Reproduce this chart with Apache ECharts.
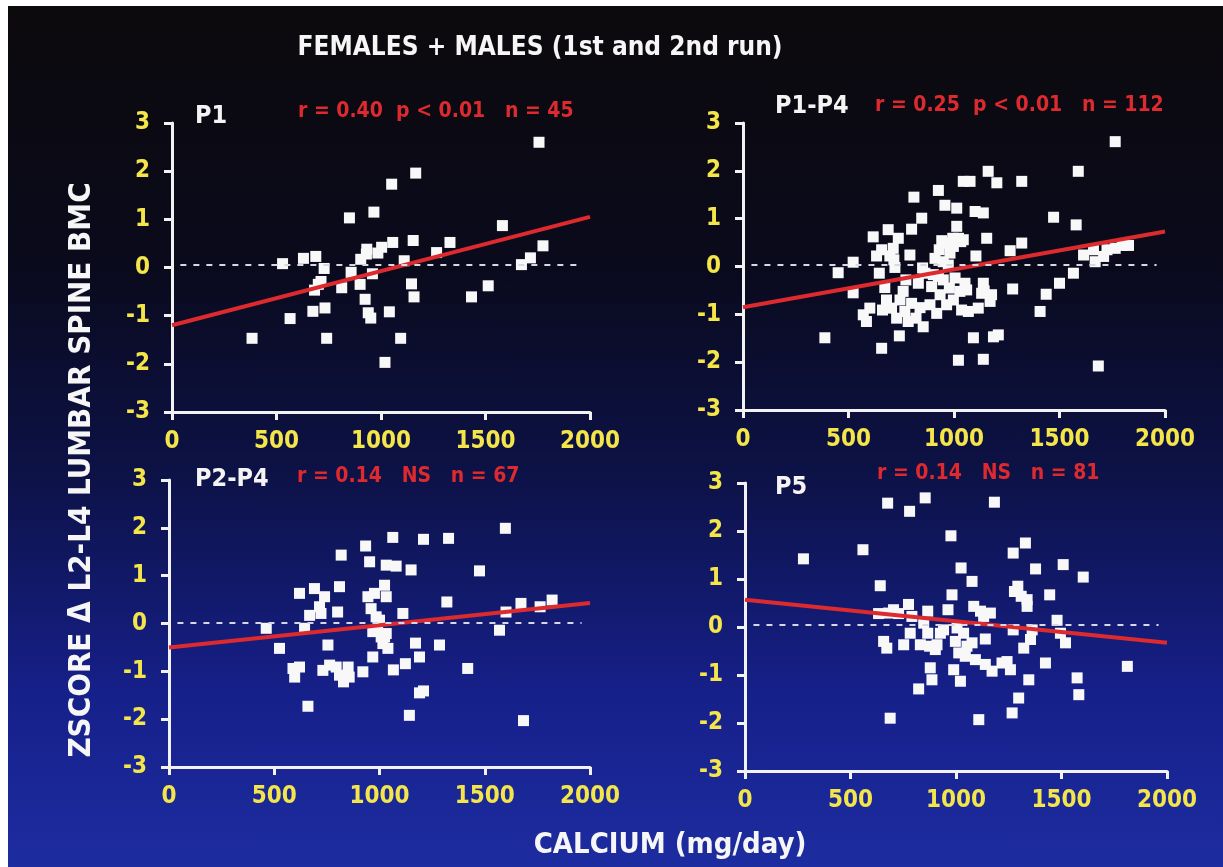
<!DOCTYPE html>
<html>
<head>
<meta charset="utf-8">
<script src="https://cdn.jsdelivr.net/npm/echarts@6/dist/echarts.min.js"></script>
<style>
  body { margin: 0; background: #ffffff; }
  #main {
    position: absolute; left: 8px; top: 6px; width: 1215px; height: 861px;
    background: linear-gradient(to bottom, #0c0a0c 0%, #0a0a1c 30%, #0d1248 55%, #16208a 80%, #1d2ca0 100%);
  }
</style>
</head>
<body>
<div id="main"></div>
<script>
// 数据：钙摄入量 (mg/day) 与 ZSCORE
var p1Calcium = [383, 529, 565, 629, 688, 728, 713, 682, 674, 732, 740, 849, 812, 857, 900, 903, 932, 924, 939, 951, 959, 966, 1003, 1051, 1056, 1040, 1019, 1094, 1111, 1146, 1158, 1154, 1166, 1266, 1330, 1433, 1513, 1581, 1672, 1715, 1775, 1756, 930, 700, 985];
var p1Zscore = [-1.47, 0.08, -1.06, 0.19, 0.23, -0.02, -0.29, -0.47, -0.91, -0.84, -1.47, 1.03, -0.42, -0.10, -0.35, 0.17, 0.38, -0.66, -0.94, -1.05, -0.13, 1.15, 0.42, 1.73, 0.52, -0.92, -1.97, -1.47, 0.14, -0.34, -0.61, 0.56, 1.96, 0.31, 0.52, -0.61, -0.38, 0.87, 0.06, 0.20, 0.45, 2.60, 0.28, -0.35, 0.30];

var p14Calcium = [388, 451, 522, 522, 570, 585, 617, 633, 646, 657, 661, 672, 688, 696, 704, 712, 720, 728, 736, 741, 759, 767, 783, 791, 799, 810, 820, 831, 839, 847, 851, 854, 886, 902, 910, 918, 926, 930, 934, 942, 949, 957, 965, 968, 973, 978, 981, 997, 1005, 1013, 1013, 1021, 1021, 1028, 1036, 1044, 1044, 1052, 1068, 1076, 1092, 1100, 1104, 1115, 1139, 1139, 1143, 1139, 1155, 1162, 1171, 1178, 1187, 1203, 1210, 1266, 1278, 1321, 1321, 1408, 1437, 1472, 1500, 1566, 1579, 1589, 1614, 1661, 1669, 1684, 1709, 1725, 1764, 1764, 1797, 1827, 601, 744, 799, 926, 1032, 994, 894, 772, 715, 657, 1060, 949, 862, 997, 1131, 680];
var p14Zscore = [-1.49, -0.13, 0.09, -0.55, -1.01, -1.15, 0.62, 0.22, -0.14, -1.71, -0.91, -0.44, 0.77, 0.22, -0.87, 0.38, -0.02, -1.08, 0.59, -1.45, -0.52, -0.94, -1.15, 0.24, 0.78, 1.45, -1.08, -0.35, -0.86, 1.01, -0.03, -1.26, -0.80, -0.17, 0.17, -0.98, 1.59, 0.35, -0.59, 0.54, -0.28, 1.28, -0.80, 0.49, 0.03, -0.45, 0.28, 0.42, -0.24, 0.84, 1.22, 0.59, -1.96, -0.52, -0.91, 1.78, 0.56, -0.35, -0.94, 1.78, -1.49, 1.15, 0.22, -0.87, 1.12, -0.35, -0.51, -1.94, 0.59, 1.99, -0.73, -0.59, -1.47, 1.75, -1.43, 0.33, -0.47, 0.49, 1.78, -0.94, -0.58, 1.03, -0.35, -0.14, 0.87, 1.99, 0.24, 0.35, 0.10, -2.08, 0.21, 0.35, 0.38, 2.61, 0.44, 0.44, -0.87, -0.70, -0.77, -0.21, 0.52, 0.59, -0.42, -0.28, 0.14, 0.35, -0.49, 0.10, -0.14, -0.70, -0.56, -0.70];

var p24Calcium = [462, 525, 620, 589, 597, 620, 644, 660, 668, 691, 715, 722, 731, 739, 755, 763, 794, 801, 810, 818, 810, 829, 851, 856, 921, 934, 945, 953, 960, 968, 968, 976, 984, 991, 1000, 1008, 1016, 1024, 1032, 1032, 1040, 1032, 1063, 1066, 1079, 1111, 1123, 1142, 1150, 1171, 1190, 1190, 1209, 1209, 1285, 1320, 1328, 1419, 1475, 1570, 1601, 1598, 1672, 1684, 1763, 1820, 1024];
var p24Zscore = [-0.10, -0.52, 0.63, -0.94, -1.12, -0.91, -0.10, -1.73, 0.17, 0.73, 0.35, 0.21, -0.98, 0.56, -0.45, -0.87, -0.91, 0.24, 0.77, 1.43, -1.08, -1.22, -0.91, -1.12, -1.01, 1.62, 0.56, 1.29, 0.31, -0.70, -0.17, 0.63, 0.14, -0.14, 0.07, -0.28, -0.42, 0.80, 0.56, -0.21, -0.52, 1.22, 1.80, -0.97, 1.20, 0.21, -0.84, -1.92, 1.12, -0.41, -0.70, -1.45, -1.41, 1.76, -0.45, 0.45, 1.78, -0.94, 1.10, -0.14, 0.24, 1.99, 0.42, -2.03, 0.35, 0.49, -0.28];

var p5Calcium = [277, 559, 641, 633, 657, 672, 676, 688, 704, 728, 752, 775, 780, 783, 791, 823, 831, 854, 866, 866, 875, 878, 886, 902, 926, 962, 976, 981, 989, 997, 1005, 1013, 1021, 1024, 1036, 1044, 1076, 1076, 1084, 1092, 1108, 1116, 1131, 1139, 1139, 1163, 1171, 1182, 1218, 1258, 1266, 1271, 1271, 1277, 1293, 1297, 1309, 1321, 1329, 1337, 1345, 1353, 1361, 1377, 1424, 1444, 1479, 1495, 1508, 1519, 1574, 1582, 1603, 1812, 941, 910, 1052, 847, 680, 1337, 1242];
var p5Zscore = [1.42, 1.61, 0.86, 0.28, -0.30, -0.44, 2.58, -1.90, 0.36, 0.28, -0.37, 0.47, 2.41, -0.13, 0.22, -1.29, -0.37, 2.69, 0.33, -0.13, -0.40, -0.85, -1.10, -0.47, -0.13, 0.36, 1.90, 0.67, -0.89, -0.30, -0.02, -0.54, -1.13, 1.23, -0.13, -0.61, -0.33, 0.95, 0.43, -0.68, -1.93, 0.33, 0.22, -0.25, -0.78, 0.29, -0.92, 2.60, -0.75, -0.89, -1.79, -0.06, 1.54, 0.74, 0.85, -1.48, 0.64, -0.44, 1.75, 0.57, -1.10, -0.26, -0.06, 1.21, -0.75, 0.67, 0.14, -0.13, 1.30, -0.33, -1.06, -1.41, 1.04, -0.82, -0.06, -0.37, -0.40, 0.08, 0.29, 0.43, -0.72];

// 回归线在 0 和 2000 处的取值
var fitEnds = [0, 2000];
var p1Fit = [-1.20, 1.05];
var p14Fit = [-0.85, 0.73];
var p24Fit = [-0.50, 0.43];
var p5Fit = [0.57, -0.33];
var zeroLine = [0.05, 0.03, 0.02, 0.05];

var xTicks = [0, 2000, 500];     // min, max, interval
var yTicks = [-3, 3, 1];

var panelNames = ['P1', 'P1-P4', 'P2-P4', 'P5'];
var panelStats = ['r = 0.40  p < 0.01   n = 45', 'r = 0.25  p < 0.01   n = 112', 'r = 0.14   NS   n = 67', 'r = 0.14   NS   n = 81'];

var FONT = "'DejaVu Sans Condensed', 'Liberation Sans', Arial, sans-serif";
var YELLOW = '#f4e64a';
var RED = '#dd2a2e';

function zip(xs, ys) {
    var out = [];
    for (var i = 0; i < xs.length; i++) {
        out.push([xs[i], ys[i]]);
    }
    return out;
}

var grids = [
    {left: 164, top: 117, width: 418, height: 289},
    {left: 735, top: 117, width: 422, height: 287},
    {left: 161, top: 474, width: 421, height: 287},
    {left: 737, top: 477, width: 422, height: 288}
];
var panelData = [zip(p1Calcium, p1Zscore), zip(p14Calcium, p14Zscore), zip(p24Calcium, p24Zscore), zip(p5Calcium, p5Zscore)];
var fits = [p1Fit, p14Fit, p24Fit, p5Fit];

var xAxes = [], yAxes = [], series = [];
for (var k = 0; k < 4; k++) {
    xAxes.push({
        gridIndex: k, type: 'value', min: xTicks[0], max: xTicks[1], interval: xTicks[2],
        axisLine: {onZero: false, lineStyle: {color: '#f2f2f2', width: 3}},
        axisTick: {length: 8, lineStyle: {color: '#f2f2f2', width: 3}},
        axisLabel: {color: YELLOW, fontFamily: FONT, fontWeight: 'bold', fontSize: 24, margin: 18,
            formatter: function (v) { return String(v); }},
        splitLine: {show: false}
    });
    yAxes.push({
        gridIndex: k, type: 'value', min: yTicks[0], max: yTicks[1], interval: yTicks[2],
        axisLine: {show: true, onZero: false, lineStyle: {color: '#f2f2f2', width: 3}},
        axisTick: {show: true, length: 8, lineStyle: {color: '#f2f2f2', width: 3}},
        axisLabel: {color: YELLOW, fontFamily: FONT, fontWeight: 'bold', fontSize: 24, margin: 22},
        splitLine: {show: false}
    });
    series.push({
        type: 'scatter', xAxisIndex: k, yAxisIndex: k,
        symbol: 'rect', symbolSize: 11,
        itemStyle: {color: '#f8f8f8', opacity: 1},
        data: panelData[k],
        markLine: {
            silent: true, symbol: 'none', label: {show: false},
            lineStyle: {color: '#d8d8e4', type: [6, 7], width: 2},
            data: [[{coord: [40, zeroLine[k]]}, {coord: [1960, zeroLine[k]]}]]
        },
        z: 3
    });
    series.push({
        type: 'line', xAxisIndex: k, yAxisIndex: k,
        showSymbol: false, silent: true,
        lineStyle: {color: RED, width: 4},
        data: [[fitEnds[0], fits[k][0]], [fitEnds[1], fits[k][1]]],
        z: 4
    });
}

var labelPos = [
    {name: [187, 111], stat: [290, 107]},
    {name: [767, 101], stat: [867, 101]},
    {name: [187, 474], stat: [289, 472]},
    {name: [767, 482], stat: [869, 469]}
];
var graphics = [];
for (var j = 0; j < 4; j++) {
    graphics.push({
        type: 'text', left: labelPos[j].name[0], top: labelPos[j].name[1] - 13,
        style: {text: panelNames[j], fill: '#f4f4f4', font: 'bold 25px ' + FONT}
    });
    graphics.push({
        type: 'text', left: labelPos[j].stat[0], top: labelPos[j].stat[1] - 12,
        style: {text: panelStats[j], fill: RED, font: 'bold 21px ' + FONT}
    });
}
graphics.push({
    type: 'text', x: 532, y: 42,
    style: {text: 'FEMALES + MALES (1st and 2nd run)', fill: '#f6f6f6', font: 'bold 26px ' + FONT, align: 'center', verticalAlign: 'middle'}
});
graphics.push({
    type: 'text', x: 662, y: 839,
    style: {text: 'CALCIUM (mg/day)', fill: '#f6f6f6', font: 'bold 29px ' + FONT, align: 'center', verticalAlign: 'middle'}
});
graphics.push({
    type: 'text', x: 74, y: 464, rotation: Math.PI / 2,
    style: {text: 'ZSCORE \u0394 L2-L4 LUMBAR SPINE BMC', fill: '#f6f6f6', font: 'bold 31px ' + FONT, align: 'center', verticalAlign: 'middle'}
});

var myChart = echarts.init(document.getElementById('main'));
myChart.setOption({
    backgroundColor: 'transparent',
    animation: false,
    grid: grids,
    xAxis: xAxes,
    yAxis: yAxes,
    series: series,
    graphic: graphics
});
</script>
</body>
</html>
